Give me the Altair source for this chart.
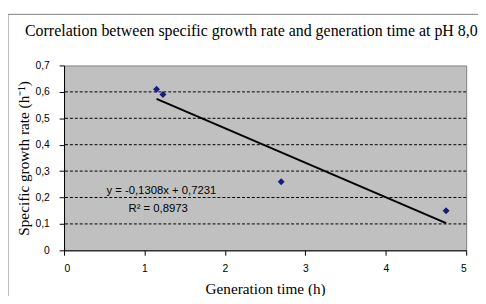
import altair as alt
import pandas as pd

# Data
gen_time = [1.15, 1.23, 2.70, 4.75]
growth_rate = [0.61, 0.59, 0.26, 0.15]
grid_values = [0.1, 0.2, 0.3, 0.4, 0.5, 0.6]
y_ticks = [0, 0.1, 0.2, 0.3, 0.4, 0.5, 0.6, 0.7]
x_ticks = [0, 1, 2, 3, 4, 5]
eq_labels = ["y = -0,1308x + 0,7231", "R² = 0,8973"]
eq_x = [1.21, 1.17]
eq_y = [0.224, 0.158]

pts = pd.DataFrame({"x": gen_time, "y": growth_rate})
grid = pd.DataFrame({"y": grid_values})
eqs = pd.DataFrame({"label": eq_labels, "x": eq_x, "y": eq_y})
one = pd.DataFrame({"a": [0]})

xscale = alt.Scale(domain=[0, 5], nice=False, zero=False)
yscale = alt.Scale(domain=[0, 0.7], nice=False, zero=False)

label_font = "Liberation Sans"
title_font = "Liberation Serif"

x_axis = alt.Axis(
    values=x_ticks, format="d", grid=False, domainColor="black", tickColor="black",
    tickSize=5, labelFont=label_font, labelFontSize=10.5, labelColor="black",
    labelPadding=9, title="Generation time (h)", titleFont=title_font,
    titleFontSize=15.5, titleFontWeight="normal", titleColor="black", titlePadding=7,
)
y_axis = alt.Axis(
    values=y_ticks, grid=False, domainColor="black", tickColor="black",
    tickSize=5, labelFont=label_font, labelFontSize=10.5, labelColor="black",
    labelPadding=10,
    labelExpr="datum.value == 0 ? '0' : replace(format(datum.value, '.1f'), '.', ',')",
    title="Specific growth rate (h⁻¹)", titleFont=title_font, titleFontSize=15.5,
    titleFontWeight="normal", titleColor="black", titlePadding=4,
)

X = alt.X("x:Q", scale=xscale, axis=x_axis)
Y = alt.Y("y:Q", scale=yscale, axis=y_axis)

border_v = alt.Chart(one).mark_rule(color="#808080", strokeWidth=1).encode(
    x=alt.value(-57), y=alt.value(-52), y2=alt.value(240)
)
border_h = alt.Chart(one).mark_rule(color="#808080", strokeWidth=1).encode(
    y=alt.value(-52), x=alt.value(-57), x2=alt.value(421)
)

grid_rules = alt.Chart(grid).mark_rule(color="black", strokeWidth=1, strokeDash=[3, 2]).encode(
    y=Y
)

points = alt.Chart(pts).mark_point(
    shape="diamond", filled=True, color="#1a1a80", size=50, opacity=1
).encode(x=X, y=Y)

trend = alt.Chart(pts).transform_regression("x", "y").mark_line(
    color="black", strokeWidth=2
).encode(x=X, y=Y)

eq_text = alt.Chart(eqs).mark_text(
    font=label_font, fontSize=11.5, color="black", align="center", baseline="middle"
).encode(x=X, y=Y, text="label:N")

chart = alt.layer(border_v, border_h, grid_rules, trend, points, eq_text).properties(
    width=409,
    height=188,
    autosize=alt.AutoSizeParams(type="none"),
    padding={"left": 57, "top": 56, "right": 12, "bottom": 44},
    title=alt.TitleParams(
        "Correlation between specific growth rate and generation time at pH 8,0",
        font=title_font, fontSize=16.2, fontWeight="normal", color="black",
        anchor="middle", frame="group", dx=-14, offset=-26,
    ),
).configure(
    background="white",
    view=alt.ViewConfig(fill="#C0C0C0", stroke="#808080", strokeWidth=1),
)

chart.save("out.html", embed_options={"renderer": "svg", "actions": False})
